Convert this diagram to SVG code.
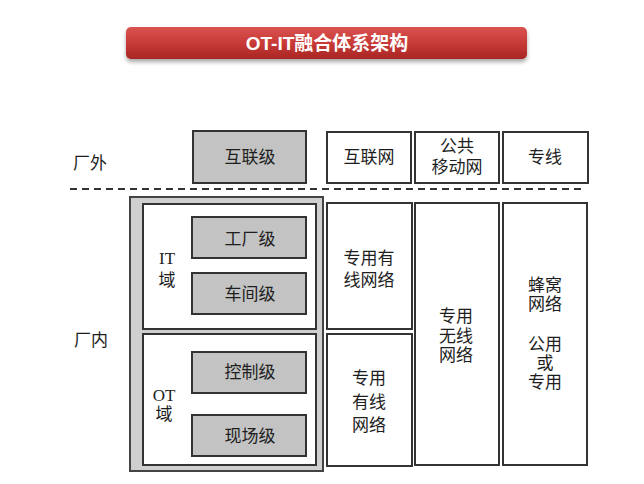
<svg xmlns="http://www.w3.org/2000/svg" width="644" height="484" viewBox="0 0 644 484">
<defs>
<linearGradient id="tg" x1="0" y1="0" x2="0" y2="1">
<stop offset="0" stop-color="#d9534f"/>
<stop offset="0.5" stop-color="#c83a37"/>
<stop offset="1" stop-color="#a82624"/>
</linearGradient>
<filter id="sh" x="-5%" y="-30%" width="110%" height="180%">
<feGaussianBlur in="SourceAlpha" stdDeviation="2"/>
<feOffset dy="3"/>
<feComponentTransfer><feFuncA type="linear" slope="0.35"/></feComponentTransfer>
<feMerge><feMergeNode/><feMergeNode in="SourceGraphic"/></feMerge>
</filter>
</defs>
<style>
.bx{fill:#ffffff;stroke:#333333;stroke-width:2}
.gr{fill:#c3c3c3;stroke:#333333;stroke-width:2}
.og{fill:#cfcfcf;stroke:#444444;stroke-width:2}
.t{font-family:"Liberation Serif","Noto Sans CJK SC",serif;font-size:17px;fill:#1e1e1e;text-anchor:middle;dominant-baseline:central}
.title{font-family:"Liberation Sans","Noto Sans CJK SC",sans-serif;font-size:19px;font-weight:bold;fill:#ffffff;text-anchor:middle;dominant-baseline:central}
</style>
<rect width="644" height="484" fill="#ffffff"/>
<g id="title">
<rect x="126" y="27" width="401" height="32" rx="5" fill="url(#tg)" filter="url(#sh)"/>
<text class="title" x="327" y="43">OT-IT融合体系架构</text>
</g>
<g id="connectors">
<line x1="70" y1="189" x2="586" y2="189" stroke="#333333" stroke-width="2" stroke-dasharray="7,5"/>
</g>
<g id="label-outside"><text class="t" x="90" y="163">厂外</text></g>
<g id="label-inside"><text class="t" x="91" y="340">厂内</text></g>
<g id="internet-level">
<rect class="gr" x="193" y="131" width="113" height="52"/>
<text class="t" x="250" y="157">互联级</text>
</g>
<g id="internet">
<rect class="bx" x="327" y="132" width="84" height="51"/>
<text class="t" x="369" y="157">互联网</text>
</g>
<g id="public-mobile">
<rect class="bx" x="415" y="132" width="84" height="51"/>
<text class="t" x="457" y="146">公共</text>
<text class="t" x="457" y="167">移动网</text>
</g>
<g id="leased-line">
<rect class="bx" x="503" y="132" width="85" height="51"/>
<text class="t" x="545" y="157">专线</text>
</g>
<g id="inside-group">
<rect class="og" x="130" y="197" width="193" height="274"/>
</g>
<g id="it-domain">
<rect class="bx" x="143" y="204" width="173" height="125"/>
<text class="t" x="167" y="258">IT</text>
<text class="t" x="167" y="280">域</text>
</g>
<g id="factory-level">
<rect class="gr" x="192" y="217" width="114" height="41"/>
<text class="t" x="250" y="239">工厂级</text>
</g>
<g id="workshop-level">
<rect class="gr" x="192" y="273" width="114" height="41"/>
<text class="t" x="250" y="294">车间级</text>
</g>
<g id="ot-domain">
<rect class="bx" x="143" y="334" width="173" height="131"/>
<text class="t" x="164" y="395">OT</text>
<text class="t" x="164" y="414">域</text>
</g>
<g id="control-level">
<rect class="gr" x="192" y="352" width="114" height="41"/>
<text class="t" x="250" y="372">控制级</text>
</g>
<g id="field-level">
<rect class="gr" x="192" y="415" width="114" height="41"/>
<text class="t" x="250" y="436">现场级</text>
</g>
<g id="wired-upper">
<rect class="bx" x="327" y="203" width="85" height="126"/>
<text class="t" x="369" y="258">专用有</text>
<text class="t" x="369" y="280">线网络</text>
</g>
<g id="wired-lower">
<rect class="bx" x="327" y="334" width="85" height="132"/>
<text class="t" x="369" y="378">专用</text>
<text class="t" x="369" y="402">有线</text>
<text class="t" x="369" y="425">网络</text>
</g>
<g id="wireless">
<rect class="bx" x="415" y="203" width="84" height="262"/>
<text class="t" x="456" y="316">专用</text>
<text class="t" x="456" y="336">无线</text>
<text class="t" x="456" y="355">网络</text>
</g>
<g id="cellular">
<rect class="bx" x="503" y="203" width="84" height="262"/>
<text class="t" x="545" y="285">蜂窝</text>
<text class="t" x="545" y="304">网络</text>
<text class="t" x="545" y="344">公用</text>
<text class="t" x="545" y="363">或</text>
<text class="t" x="545" y="382">专用</text>
</g>
</svg>
